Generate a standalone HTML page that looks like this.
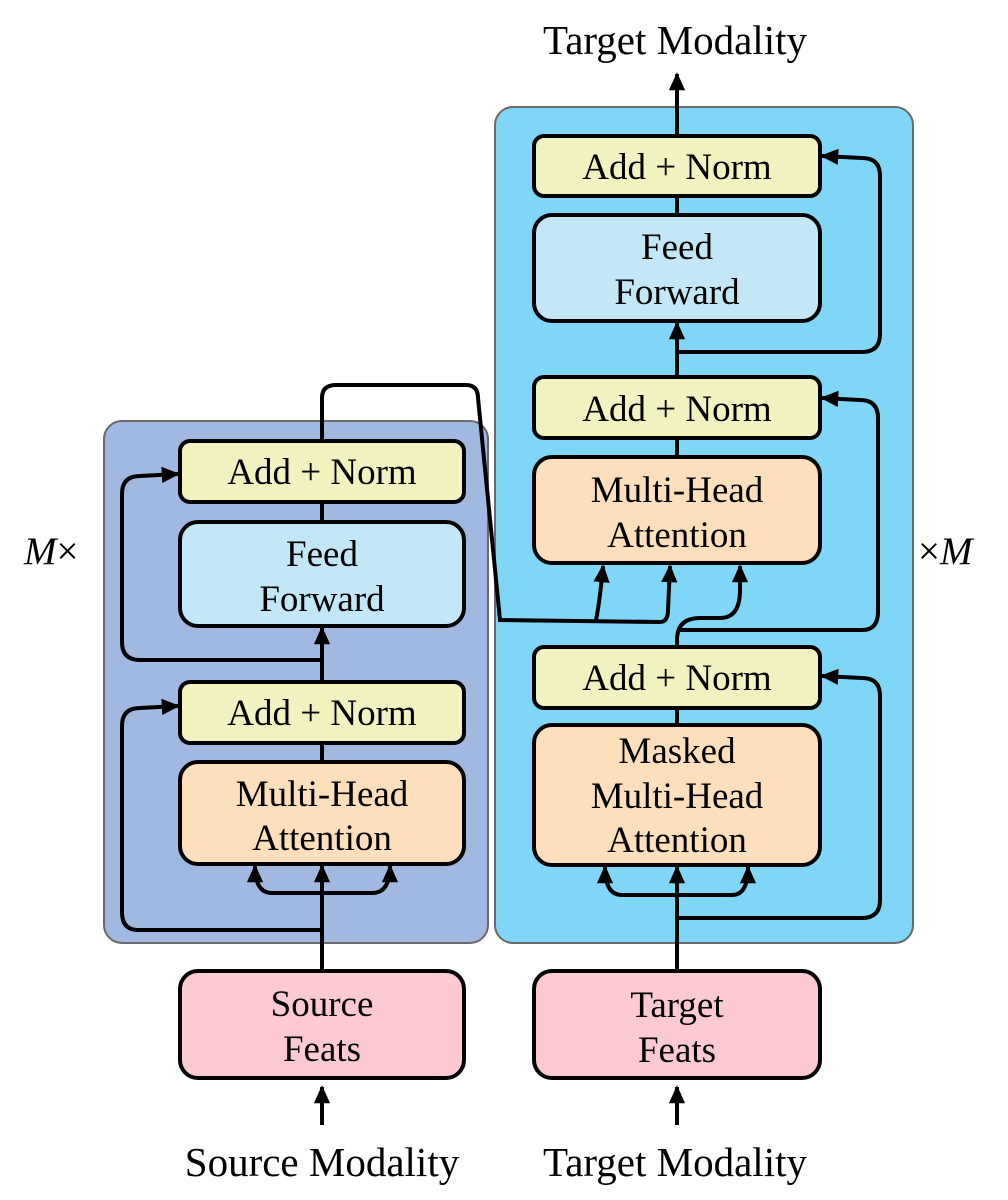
<!DOCTYPE html>
<html><head><meta charset="utf-8"><style>body{margin:0;background:#fff}svg{display:block}text{font-family:"Liberation Serif",serif;fill:#000}</style></head>
<body>
<svg width="1008" height="1200" viewBox="0 0 1008 1200" xmlns="http://www.w3.org/2000/svg">
<defs>
<marker id="b" viewBox="0 0 10 10" refX="9" refY="5" markerWidth="20" markerHeight="18" orient="auto" markerUnits="userSpaceOnUse"><path d="M0,0.5 L10,5 L0,9.5 Z"/></marker></defs>
<rect x="104" y="421" width="384" height="522" rx="18" fill="#a1b8e1" stroke="#6a6a6a" stroke-width="2"/>
<rect x="495" y="107" width="418" height="836" rx="18" fill="#7fd6f7" stroke="#6a6a6a" stroke-width="2"/>
<g fill="none" stroke="#000" stroke-width="4">
<path d="M322 971 V866" marker-end="url(#b)"/>
<path d="M322 893 H272 Q255 893 255 866" marker-end="url(#b)"/>
<path d="M322 893 H372 Q390 893 390 866" marker-end="url(#b)"/>
<path d="M322 930 H138 Q122 930 122 912 V726 Q122 708 140 708 L178 706" marker-end="url(#b)"/>
<path d="M322 762 V743"/>
<path d="M322 682 V628" marker-end="url(#b)"/>
<path d="M322 660 H140 Q122 660 122 642 V494 Q122 476 140 476 L178 474" marker-end="url(#b)"/>
<path d="M322 522 V502"/>
<path d="M322 441 V398 Q322 385 336 385 H466 Q478 385 478 398 L500 620 L660 622 Q668 622 668 610 L670 566" marker-end="url(#b)"/>
<path d="M596 620 Q600 600 603 566" marker-end="url(#b)"/>
<path d="M677 971 V867" marker-end="url(#b)"/>
<path d="M677 895 H622 Q605 895 605 867" marker-end="url(#b)"/>
<path d="M677 895 H732 Q748 895 748 867" marker-end="url(#b)"/>
<path d="M677 918 H862 Q880 918 880 900 V696 Q880 678 862 678 L822 676" marker-end="url(#b)"/>
<path d="M677 725 V708"/>
<path d="M677 647 V640 Q677 618 700 618 H720 Q740 618 740 590 L740 566" marker-end="url(#b)"/>
<path d="M677 630 H862 Q878 630 878 612 V418 Q878 400 860 400 L822 398" marker-end="url(#b)"/>
<path d="M677 457 V438"/>
<path d="M677 377 V323" marker-end="url(#b)"/>
<path d="M677 352 H862 Q880 352 880 334 V176 Q880 158 862 158 L822 156" marker-end="url(#b)"/>
<path d="M677 215 V196"/>
<path d="M677 136 V74" marker-end="url(#b)"/>
<path d="M322 1125 V1087" marker-end="url(#b)"/>
<path d="M677 1125 V1087" marker-end="url(#b)"/>
</g>
<g stroke="#000" stroke-width="4">
<rect x="180" y="441" width="284" height="61" rx="10" fill="#f2f2c1"/>
<rect x="180" y="522" width="284" height="104" rx="18" fill="#c2e8f7"/>
<rect x="180" y="682" width="284" height="61" rx="10" fill="#f2f2c1"/>
<rect x="180" y="762" width="284" height="102" rx="18" fill="#fde0bb"/>
<rect x="180" y="971" width="284" height="107" rx="18" fill="#fdcad4"/>
<rect x="534" y="136" width="286" height="60" rx="10" fill="#f2f2c1"/>
<rect x="534" y="215" width="286" height="106" rx="18" fill="#c2e8f7"/>
<rect x="534" y="377" width="286" height="61" rx="10" fill="#f2f2c1"/>
<rect x="534" y="457" width="286" height="106" rx="18" fill="#fde0bb"/>
<rect x="534" y="647" width="286" height="61" rx="10" fill="#f2f2c1"/>
<rect x="534" y="725" width="286" height="140" rx="18" fill="#fde0bb"/>
<rect x="534" y="971" width="286" height="107" rx="18" fill="#fdcad4"/>
</g>
<g font-size="37" text-anchor="middle">
<text x="322" y="484">Add + Norm</text>
<text x="322" y="566">Feed</text><text x="322" y="611">Forward</text>
<text x="322" y="725">Add + Norm</text>
<text x="322" y="806">Multi-Head</text><text x="322" y="850">Attention</text>
<text x="322" y="1016">Source</text><text x="322" y="1061">Feats</text>
<text x="677" y="179">Add + Norm</text>
<text x="677" y="259">Feed</text><text x="677" y="304">Forward</text>
<text x="677" y="421">Add + Norm</text>
<text x="677" y="502">Multi-Head</text><text x="677" y="547">Attention</text>
<text x="677" y="690">Add + Norm</text>
<text x="677" y="763">Masked</text><text x="677" y="808">Multi-Head</text><text x="677" y="852">Attention</text>
<text x="677" y="1017">Target</text><text x="677" y="1062">Feats</text>
</g>
<g font-size="41" text-anchor="middle">
<text x="675" y="54">Target Modality</text>
<text x="322" y="1176">Source Modality</text>
<text x="675" y="1176">Target Modality</text>
</g>
<text x="24" y="564" font-size="39"><tspan font-style="italic">M</tspan>×</text>
<text x="918" y="564" font-size="39">×<tspan font-style="italic">M</tspan></text>
</svg>
</body></html>
